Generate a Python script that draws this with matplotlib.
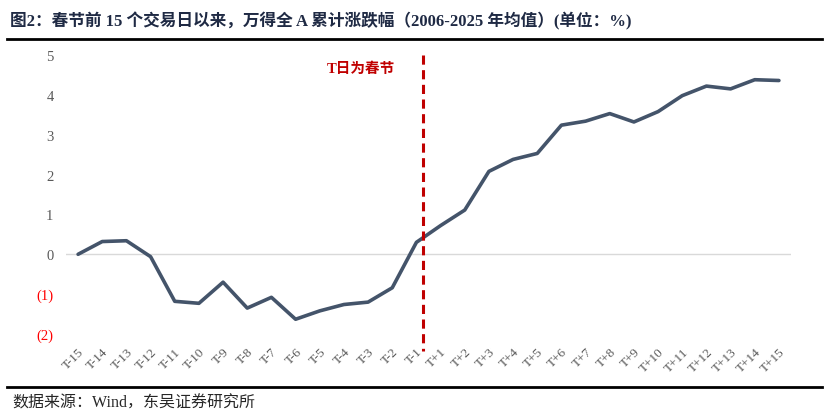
import matplotlib
matplotlib.use("Agg")
import matplotlib.pyplot as plt
from matplotlib.lines import Line2D

plt.rcParams['font.family'] = ['Liberation Serif', 'Noto Sans CJK SC', 'DejaVu Sans']

categories = [f"T-{i}" for i in range(15, 0, -1)] + [f"T+{i}" for i in range(1, 16)]
values = [0.00, 0.32, 0.34, -0.06, -1.18, -1.23, -0.70, -1.35, -1.08, -1.63,
          -1.42, -1.26, -1.20, -0.84, 0.30,
          0.72, 1.11, 2.08, 2.38, 2.53, 3.24, 3.34, 3.53, 3.32, 3.58,
          3.98, 4.22, 4.15, 4.38, 4.36]
yticks = [-2, -1, 0, 1, 2, 3, 4, 5]
ytick_labels = ["(2)", "(1)", "0", "1", "2", "3", "4", "5"]
title = "图2：春节前 15 个交易日以来，万得全 A 累计涨跌幅（2006-2025 年均值）(单位：%)"
source = "数据来源：Wind，东吴证券研究所"
annot = "T日为春节"
spring_pos = 14.27

W, H = 830, 414
fig = plt.figure(figsize=(W / 100, H / 100), dpi=100)
ax = fig.add_axes([66 / W, 1 - 335 / H, (791 - 66) / W, (335 - 56) / H])

x = list(range(len(categories)))
ax.axhline(0, color="#D9D9D9", lw=1.0, zorder=1)
ax.plot(x, values, color="#44546A", lw=2.6, solid_capstyle="round", zorder=3)
ax.set_xlim(-0.5, len(categories) - 0.5)
ax.set_ylim(-2, 5)

ax.set_yticks(yticks)
ax.set_yticklabels(ytick_labels, fontsize=10.5)
for lab, v in zip(ax.get_yticklabels(), yticks):
    lab.set_color("#FF0000" if v < 0 else "#595959")
ax.tick_params(axis="y", length=0, pad=9)

ax.set_xticks(x)
ax.set_xticklabels(categories, rotation=45, ha="right", rotation_mode="anchor",
                   fontsize=9.5, color="#595959")
ax.tick_params(axis="x", length=0, pad=8)
for s in ax.spines.values():
    s.set_visible(False)

# dashed spring festival line
ax.plot([spring_pos, spring_pos], [5.0, -2.42], color="#C00000", lw=2.2,
        dashes=(3.0, 1.8), clip_on=False, zorder=4)
ax.text(spring_pos - 1.15, 4.67, annot, color="#C00000", fontsize=10.5,
        fontweight="bold", ha="right", va="center")

# title, rules, source
fig.text(10 / W, 1 - 21 / H, title, fontsize=12, color="#1F2A44",
         fontweight="bold", ha="left", va="center")
fig.add_artist(Line2D([7 / W, 822 / W], [1 - 40 / H, 1 - 40 / H], color="black", lw=2.0))
fig.add_artist(Line2D([7 / W, 822 / W], [1 - 388 / H, 1 - 388 / H], color="black", lw=2.0))
fig.text(12 / W, 1 - 404 / H, source, fontsize=11.5, color="#262626", ha="left", va="center")

fig.savefig("out.png", dpi=100, facecolor="white")
